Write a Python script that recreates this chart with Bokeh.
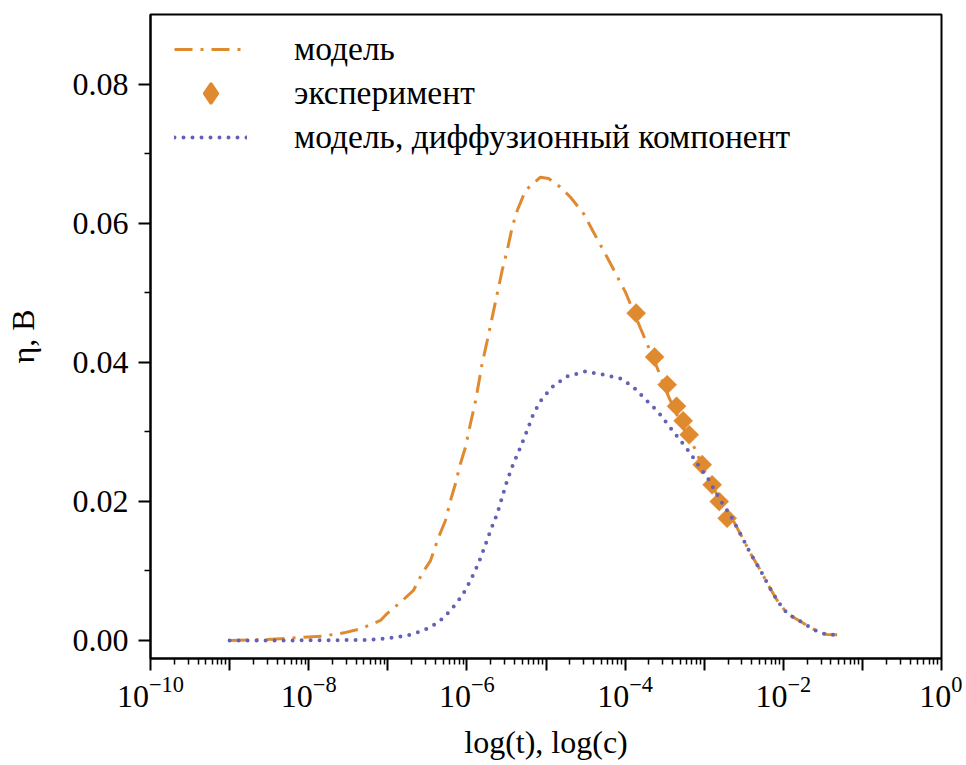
from bokeh.plotting import figure
from bokeh.models import FixedTicker, Legend, LegendItem, LogTickFormatter, PrintfTickFormatter
from bokeh.embed import file_html
from bokeh.resources import INLINE

# ---- data ----
model_x = [1.0e-9, 3.0e-9, 6.8e-9, 1.48e-8, 2.78e-8, 4.52e-8, 8.09e-8, 9.8e-8, 1.45e-7, 2.11e-7,
           2.72e-7, 3.47e-7, 4.38e-7, 5.36e-7, 6.21e-7, 7.18e-7, 8.30e-7, 9.59e-7, 1.11e-6, 1.29e-6,
           1.56e-6, 1.81e-6, 2.09e-6, 2.42e-6, 2.79e-6, 3.23e-6, 3.74e-6, 4.33e-6, 5.51e-6, 8.51e-6,
           1.08e-5, 1.52e-5, 2.04e-5, 2.98e-5, 3.99e-5, 6.35e-5, 1.01e-4, 1.57e-4, 2.42e-4, 3.57e-4,
           5.01e-4, 7.40e-4, 1.09e-3, 1.61e-3, 2.15e-3, 3.02e-3, 3.85e-3, 5.15e-3, 6.50e-3, 8.38e-3,
           1.12e-2, 1.43e-2, 2.21e-2, 2.79e-2, 3.59e-2, 4.80e-2]
model_y = [0.0, 0.00014, 0.00039, 0.00062, 0.0011, 0.00168, 0.00288, 0.00388, 0.00551, 0.0072,
           0.00964, 0.0115, 0.01486, 0.01727, 0.02014, 0.02259, 0.02547, 0.02781, 0.03122, 0.03453,
           0.03986, 0.04317, 0.04652, 0.04993, 0.05324, 0.05612, 0.05947, 0.06187, 0.06475, 0.06666,
           0.06647, 0.06522, 0.06378, 0.06144, 0.05875, 0.0545, 0.05012, 0.04489, 0.03986, 0.03501,
           0.03137, 0.02791, 0.0235, 0.02014, 0.01799, 0.01486, 0.01252, 0.01007, 0.00791, 0.00576,
           0.00388, 0.00317, 0.00187, 0.00119, 0.00086, 0.00082]

diff_x = [1.0e-9, 3.2e-9, 1.0e-8, 3.2e-8, 6.0e-8, 1.02e-7, 1.76e-7, 2.83e-7, 4.38e-7, 6.21e-7,
          8.73e-7, 1.11e-6, 1.40e-6, 1.67e-6, 1.99e-6, 2.42e-6, 2.79e-6, 3.23e-6, 3.88e-6, 4.76e-6,
          5.78e-6, 6.95e-6, 8.95e-6, 1.24e-5, 1.85e-5, 3.16e-5, 5.13e-5, 8.75e-5, 1.28e-4, 1.81e-4,
          2.64e-4, 3.54e-4, 5.01e-4, 6.71e-4, 8.97e-4, 1.09e-3, 1.61e-3, 2.15e-3, 3.02e-3, 3.85e-3,
          5.15e-3, 6.50e-3, 8.38e-3, 1.12e-2, 1.43e-2, 2.21e-2, 2.79e-2, 3.59e-2, 4.80e-2]
diff_y = [0.0, 0.0, 0.00003, 0.00006, 0.0001, 0.00033, 0.00072, 0.00144, 0.00263, 0.00432,
          0.00647, 0.00863, 0.01108, 0.01342, 0.01583, 0.01827, 0.02062, 0.02302, 0.02547, 0.02781,
          0.03022, 0.03266, 0.03482, 0.03662, 0.03799, 0.03871, 0.03827, 0.0377, 0.03645, 0.03468,
          0.03285, 0.03094, 0.02878, 0.02691, 0.02475, 0.0235, 0.02014, 0.01799, 0.01486, 0.01252,
          0.01007, 0.00791, 0.00576, 0.00388, 0.00317, 0.00187, 0.00119, 0.00086, 0.00082]

exp_x = [1.38e-4, 2.36e-4, 3.40e-4, 4.47e-4, 5.42e-4, 6.46e-4, 9.44e-4, 1.26e-3, 1.55e-3, 1.95e-3]
exp_y = [0.0471, 0.0408, 0.0368, 0.0337, 0.0316, 0.0296, 0.0253, 0.0224, 0.0200, 0.0176]

labels = ["модель", "эксперимент", "модель, диффузионный компонент"]
x_title = "log(t), log(c)"
y_title = "η, В"

y_ticks = [0.0, 0.02, 0.04, 0.06, 0.08]
y_minor = [0.01, 0.03, 0.05, 0.07]
x_exponents = [-10, -9, -8, -7, -6, -5, -4, -3, -2, -1, 0]

ORANGE = "#E08A30"
BLUE = "#6262B4"
FONT = "Times New Roman"

p = figure(width=962, height=765, x_axis_type="log", x_range=(1e-10, 1.0),
           y_range=(-0.00259, 0.09007), output_backend="svg", toolbar_location=None,
           min_border_left=150, min_border_right=21, min_border_top=14, min_border_bottom=107)
p.grid.visible = False
p.outline_line_color = "black"
p.outline_line_width = 2
p.background_fill_color = "white"
p.border_fill_color = "white"

r_model = p.line(model_x, model_y, line_color=ORANGE, line_width=3, line_dash="18 8 3 8")
r_exp = p.scatter(exp_x, exp_y, marker="square", size=13.5, angle=0.785398,
                  fill_color=ORANGE, line_color=ORANGE, line_width=0.5)
r_diff = p.line(diff_x, diff_y, line_color=BLUE, line_width=4, line_dash="0 9", line_cap="round")
# legend keys for the experiment points (legend markers are drawn unrotated)
r_exp_key = p.scatter([float("nan")], [float("nan")], marker="diamond",
                      fill_color=ORANGE, line_color=ORANGE, line_width=2.5)
r_blank = p.scatter([float("nan")], [float("nan")], marker="diamond",
                    fill_alpha=0, line_alpha=0)

# x axis ticks: every decade, labels on even decades
x_major = [float(f"1e{k}") for k in x_exponents]
x_minor = [m * float(f"1e{k}") for k in x_exponents[:-1] for m in range(2, 10)]
xa = p.xaxis[0]
xa.ticker = FixedTicker(ticks=x_major, minor_ticks=x_minor)
xa.formatter = LogTickFormatter()
xa.major_label_overrides = {v: "" for k, v in zip(x_exponents, x_major) if k % 2 != 0}

ya = p.yaxis[0]
ya.ticker = FixedTicker(ticks=y_ticks, minor_ticks=y_minor)
ya.formatter = PrintfTickFormatter(format="%.2f")

for ax in (xa, ya):
    ax.axis_line_width = 2
    ax.axis_line_color = "black"
    ax.major_tick_line_width = 2
    ax.minor_tick_line_width = 1.5
    ax.major_tick_in = 0
    ax.minor_tick_in = 0
    ax.major_tick_out = 12
    ax.minor_tick_out = 6
    ax.major_label_text_font = FONT
    ax.major_label_text_font_size = "32px"
    ax.major_label_text_font_style = "normal"
    ax.major_label_text_color = "black"
    ax.axis_label_text_font = FONT
    ax.axis_label_text_font_size = "32px"
    ax.axis_label_text_font_style = "normal"
    ax.axis_label_text_color = "black"

xa.axis_label = x_title
xa.major_label_standoff = 6
xa.axis_label_standoff = 14
ya.axis_label = y_title
ya.major_label_standoff = 10
ya.axis_label_standoff = 29

legend = Legend(items=[LegendItem(label=labels[0], renderers=[r_model]),
                       LegendItem(label=labels[1], renderers=[r_blank]),
                       LegendItem(label=labels[2], renderers=[r_diff])],
                location=(24, 499), padding=0, margin=0, spacing=0,
                glyph_width=73, glyph_height=44, label_height=44, label_standoff=47,
                label_text_font=FONT, label_text_font_size="33.5px",
                label_text_font_style="normal", label_text_color="black",
                border_line_alpha=0, background_fill_alpha=0)
p.add_layout(legend)

key_legend = Legend(items=[LegendItem(label=" ", renderers=[r_exp_key])],
                    location=(24, 539), padding=0, margin=0, spacing=0,
                    glyph_width=73, glyph_height=52, label_height=10, label_standoff=0,
                    label_text_font_size="2px",
                    border_line_alpha=0, background_fill_alpha=0)
p.add_layout(key_legend)

open("out.html", "w").write(file_html(p, INLINE))
